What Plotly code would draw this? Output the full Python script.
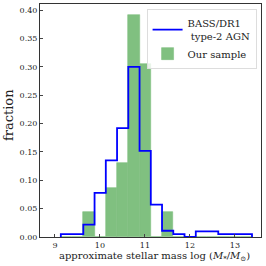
import plotly.graph_objects as go

# bin edges (log stellar mass)
bin_edges = [9.13, 9.38, 9.63, 9.88, 10.13, 10.38, 10.63, 10.88, 11.13,
             11.38, 11.63, 11.88, 12.13, 12.38, 12.63, 12.88, 13.13, 13.38]
bass_frac = [0.005, 0.005, 0.022, 0.078, 0.135, 0.192, 0.300, 0.152, 0.057,
             0.011, 0.005, 0.0, 0.010, 0.010, 0.005, 0.005, 0.005]
ours_frac = [0.0, 0.0, 0.044, 0.0, 0.087, 0.131, 0.391, 0.305, 0.0,
             0.044, 0.0, 0.0, 0.0, 0.0, 0.0, 0.0, 0.0]
x_ticks = [9, 10, 11, 12, 13]
y_ticks = [0.00, 0.05, 0.10, 0.15, 0.20, 0.25, 0.30, 0.35, 0.40]

centers = [(a + b) / 2 for a, b in zip(bin_edges[:-1], bin_edges[1:])]
widths = [b - a for a, b in zip(bin_edges[:-1], bin_edges[1:])]

step_x = [bin_edges[0]] + list(bin_edges)
step_y = [0.0] + list(bass_frac) + [0.0]

FONT = "DejaVu Serif"
GREEN = "#80c080"

fig = go.Figure()
fig.add_trace(go.Scatter(
    x=step_x, y=step_y, mode="lines", line_shape="hv",
    line=dict(color="#0000ff", width=1.8),
    name="BASS/DR1<br> type-2 AGN",
))
fig.add_trace(go.Bar(
    x=centers, y=ours_frac, width=widths,
    marker=dict(color=GREEN, line=dict(width=0.6, color=GREEN)),
    name="Our sample",
))

fig.update_layout(
    width=266, height=266,
    margin=dict(l=40, r=5, t=4, b=29),
    plot_bgcolor="white", paper_bgcolor="white",
    font=dict(family=FONT, size=8, color="#222"),
    showlegend=True,
    bargap=0,
    legend=dict(
        x=0.98, y=0.978, xanchor="right", yanchor="top",
        bgcolor="rgba(255,255,255,0.8)", bordercolor="#dddddd", borderwidth=1,
        font=dict(family=FONT, size=10, color="#222"),
        tracegroupgap=0, itemwidth=30,
    ),
    xaxis=dict(
        range=[8.667, 13.58], tickvals=x_ticks, ticktext=[str(v) for v in x_ticks],
        ticks="inside", ticklen=3, tickcolor="#444",
        showline=True, linecolor="#333", linewidth=1, mirror=True,
        showgrid=False, zeroline=False,
    ),
    yaxis=dict(
        range=[0, 0.411], tickvals=y_ticks, ticktext=[f"{v:.2f}" for v in y_ticks],
        ticks="inside", ticklen=3, tickcolor="#444",
        showline=True, linecolor="#333", linewidth=1, mirror=True,
        showgrid=False, zeroline=False,
    ),
    annotations=[
        dict(text="approximate stellar mass log (<i>M</i><sub>*</sub>/<i>M</i><sub>⊙</sub>)",
             xref="paper", yref="paper", x=0.52, y=-0.082,
             xanchor="center", yanchor="middle", showarrow=False,
             font=dict(family=FONT, size=10, color="#222")),
        dict(text="fraction", textangle=-90,
             xref="paper", yref="paper", x=-0.145, y=0.523,
             xanchor="center", yanchor="middle", showarrow=False,
             font=dict(family=FONT, size=13, color="#222")),
    ],
)

fig.write_html(
    "out.html",
    config={"displayModeBar": False},
    post_script="document.body.style.margin='0';document.body.style.padding='0';document.body.style.overflow='hidden';",
)
